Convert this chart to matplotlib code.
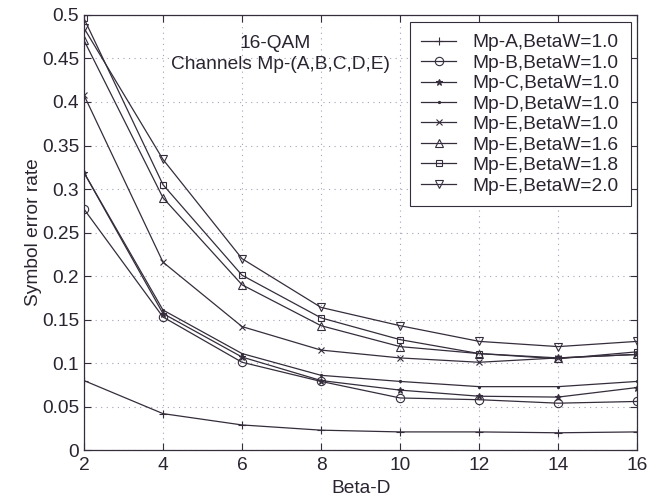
import matplotlib
matplotlib.use('Agg')
import matplotlib.pyplot as plt

# Beta-D values on the x axis
beta_d = [2, 4, 6, 8, 10, 12, 14, 16]

# Symbol error rate per channel / BetaW setting
ser_a_10 = [0.080, 0.042, 0.029, 0.023, 0.021, 0.021, 0.020, 0.021]
ser_b_10 = [0.277, 0.153, 0.101, 0.079, 0.060, 0.058, 0.054, 0.056]
ser_c_10 = [0.319, 0.157, 0.107, 0.080, 0.069, 0.062, 0.061, 0.072]
ser_d_10 = [0.319, 0.161, 0.111, 0.086, 0.079, 0.073, 0.073, 0.079]
ser_e_10 = [0.408, 0.216, 0.142, 0.115, 0.106, 0.101, 0.106, 0.110]
ser_e_16 = [0.471, 0.290, 0.190, 0.143, 0.119, 0.111, 0.106, 0.110]
ser_e_18 = [0.496, 0.305, 0.201, 0.152, 0.127, 0.111, 0.105, 0.113]
ser_e_20 = [0.485, 0.334, 0.220, 0.164, 0.143, 0.125, 0.119, 0.125]

labels = ['Mp-A,BetaW=1.0', 'Mp-B,BetaW=1.0', 'Mp-C,BetaW=1.0',
          'Mp-D,BetaW=1.0', 'Mp-E,BetaW=1.0', 'Mp-E,BetaW=1.6',
          'Mp-E,BetaW=1.8', 'Mp-E,BetaW=2.0']
series = [ser_a_10, ser_b_10, ser_c_10, ser_d_10,
          ser_e_10, ser_e_16, ser_e_18, ser_e_20]
markers = ['+', 'o', '*', '.', 'x', '^', 's', 'v']
msizes = [6, 6, 5, 3, 4, 6, 5, 6]

FS = 13.8

plt.rcParams.update({
    'font.family': ['Liberation Sans', 'DejaVu Sans'],
    'font.size': FS,
    'axes.linewidth': 0.9,
    'xtick.direction': 'in',
    'ytick.direction': 'in',
    'xtick.top': True,
    'ytick.right': True,
})

INK = '#352d3c'
TXT = '#2a2430'

fig = plt.figure(figsize=(6.61, 4.98), dpi=100)
ax = fig.add_axes([0.127, 0.096, 0.837, 0.874])

for y, lab, m, ms in zip(series, labels, markers, msizes):
    ax.plot(beta_d, y, color=INK, linewidth=0.9, marker=m, markersize=ms,
            markerfacecolor='none' if m in 'o^sv' else INK,
            markeredgecolor=INK, markeredgewidth=0.8, label=lab)

ax.set_xlim(2, 16)
ax.set_ylim(0, 0.5)
ax.set_xticks(beta_d)
ax.set_yticks([0, 0.05, 0.1, 0.15, 0.2, 0.25, 0.3, 0.35, 0.4, 0.45, 0.5])
ax.set_yticklabels(['0', '0.05', '0.1', '0.15', '0.2', '0.25', '0.3',
                    '0.35', '0.4', '0.45', '0.5'])
ax.tick_params(length=5, width=0.8, colors=INK, labelcolor=TXT, labelsize=FS)
ax.tick_params(axis='x', pad=5)
for sp in ax.spines.values():
    sp.set_color(INK)

ax.grid(True, linestyle=(0, (1, 4)), color='#a5a2b8', linewidth=0.8)

ax.set_xlabel('Beta-D', fontsize=FS, color=TXT, labelpad=4)
ax.set_ylabel('Symbol error rate', fontsize=FS, color=TXT, labelpad=0)

ax.text(0.345, 0.925, '16-QAM', transform=ax.transAxes, ha='center',
        fontsize=FS, color=TXT)
ax.text(0.355, 0.875, 'Channels Mp-(A,B,C,D,E)', transform=ax.transAxes,
        ha='center', fontsize=FS, color=TXT)

leg = ax.legend(loc='upper right', bbox_to_anchor=(0.988, 0.983), fontsize=FS,
                fancybox=False, framealpha=1, edgecolor=INK, borderpad=0.6,
                labelspacing=0.16, handlelength=1.8, handletextpad=0.85,
                borderaxespad=0)
leg.get_frame().set_linewidth(0.8)
for t in leg.get_texts():
    t.set_color(TXT)

fig.savefig('out.png', dpi=100)
